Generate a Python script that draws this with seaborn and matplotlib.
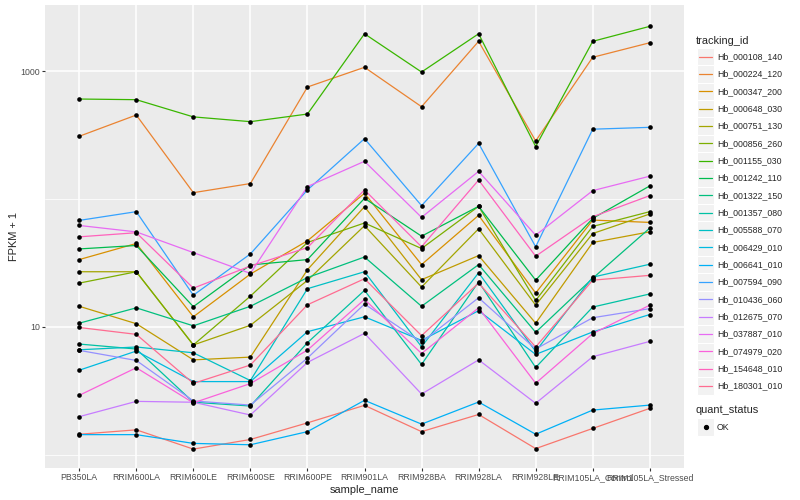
import pandas as pd
import seaborn as sns
import matplotlib.pyplot as plt
from matplotlib.lines import Line2D
from matplotlib.patches import Rectangle
from matplotlib.ticker import FixedLocator, NullFormatter


samples = ["PB350LA", "RRIM600LA", "RRIM600LE", "RRIM600SE", "RRIM600PE", "RRIM901LA",
           "RRIM928BA", "RRIM928LA", "RRIM928LE", "RRIM105LA_Control", "RRIM105LA_Stressed"]

# FPKM + 1 per sample
hb_000108_140 = [1.45, 1.57, 1.11, 1.32, 1.78, 2.44, 1.52, 2.07, 1.12, 1.61, 2.31]
hb_000224_120 = [309, 453, 112, 132, 750, 1069, 526, 1706, 284, 1280, 1663]
hb_000347_200 = [33.6, 44.9, 12.0, 25.9, 47.1, 110.8, 30.7, 74.5, 18.4, 68.4, 65.6]
hb_000648_030 = [14.5, 10.6, 5.53, 5.81, 28.0, 87.1, 23.4, 36.1, 10.7, 45.7, 55.4]
hb_000751_130 = [27.0, 27.0, 7.23, 10.3, 23.1, 61.8, 20.5, 58.5, 14.8, 53.7, 76.3]
hb_000856_260 = [22.0, 27.0, 7.23, 17.4, 45.7, 64.9, 41.0, 87.6, 16.1, 61.0, 79.6]
hb_001155_030 = [604, 597, 438, 402, 461, 1954, 982, 1954, 257, 1706, 2234]
hb_001242_110 = [40.7, 43.3, 14.4, 30.5, 33.6, 101.2, 51.2, 87.6, 23.2, 70.5, 126.5]
hb_001322_150 = [10.7, 14.1, 10.2, 14.5, 24.3, 35.2, 14.5, 30.7, 9.08, 24.0, 59.2]
hb_001357_080 = [7.35, 6.72, 2.58, 2.41, 7.53, 19.3, 5.09, 22.5, 4.82, 14.3, 18.1]
hb_005588_070 = [6.63, 6.97, 6.28, 3.81, 19.9, 27.0, 7.0, 26.5, 6.44, 24.5, 30.9]
hb_006429_010 = [4.59, 6.48, 3.74, 3.74, 9.18, 12.0, 7.85, 13.4, 6.10, 9.14, 12.5]
hb_006641_010 = [1.44, 1.44, 1.23, 1.20, 1.52, 2.67, 1.74, 2.59, 1.45, 2.24, 2.45]
hb_007594_090 = [68.0, 79.6, 17.7, 37.2, 117.7, 296, 88.7, 272, 42.3, 351, 363]
hb_010436_060 = [6.56, 5.47, 2.64, 2.45, 5.71, 15.1, 7.6, 16.9, 6.72, 11.8, 13.9]
hb_012675_070 = [1.99, 2.62, 2.58, 2.05, 5.28, 8.91, 2.99, 5.53, 2.53, 5.85, 7.71]
hb_037887_010 = [62.1, 55.3, 38.1, 26.2, 125, 197, 71.8, 164.4, 52.1, 116.2, 150.7]
hb_074979_020 = [2.92, 4.80, 2.55, 3.61, 6.59, 16.4, 6.2, 14.1, 3.63, 8.87, 14.8]
hb_154648_010 = [50.6, 54.5, 20.1, 29.9, 41.7, 117.7, 42.3, 140.6, 35.7, 72.6, 106.2]
hb_180301_010 = [9.9, 8.75, 3.62, 5.04, 14.9, 23.8, 8.55, 22.0, 6.97, 23.2, 25.3]

tracking_ids = ["Hb_000108_140", "Hb_000224_120", "Hb_000347_200", "Hb_000648_030", "Hb_000751_130",
                "Hb_000856_260", "Hb_001155_030", "Hb_001242_110", "Hb_001322_150", "Hb_001357_080",
                "Hb_005588_070", "Hb_006429_010", "Hb_006641_010", "Hb_007594_090", "Hb_010436_060",
                "Hb_012675_070", "Hb_037887_010", "Hb_074979_020", "Hb_154648_010", "Hb_180301_010"]
series = [hb_000108_140, hb_000224_120, hb_000347_200, hb_000648_030, hb_000751_130,
          hb_000856_260, hb_001155_030, hb_001242_110, hb_001322_150, hb_001357_080,
          hb_005588_070, hb_006429_010, hb_006641_010, hb_007594_090, hb_010436_060,
          hb_012675_070, hb_037887_010, hb_074979_020, hb_154648_010, hb_180301_010]

# ggplot2 default hue palette for 20 levels
colors = ["#F8766D", "#EA8331", "#D89000", "#C09B00", "#A3A500", "#7CAE00", "#39B600",
          "#00BB4E", "#00BF7D", "#00C1A3", "#00BFC4", "#00BAE0", "#00B0F6", "#35A2FF",
          "#9590FF", "#C77CFF", "#E76BF3", "#FA62DB", "#FF62BC", "#FF6C91"]

rows = []
for tid, vals in zip(tracking_ids, series):
    for s, v in zip(samples, vals):
        rows.append((tid, s, v, "OK"))
data = pd.DataFrame(rows, columns=["tracking_id", "sample_name", "fpkm", "quant_status"])
data["sample_name"] = pd.Categorical(data["sample_name"], categories=samples, ordered=True)
data["pos"] = data["sample_name"].cat.codes

sns.set_theme(style="darkgrid")
plt.rcParams["font.family"] = ["Liberation Sans", "DejaVu Sans"]

W, H = 800, 500
fig = plt.figure(figsize=(8, 5), dpi=100)
ax = fig.add_axes([45 / W, 1 - 468 / H, 639 / W, 463 / H])
ax.set_facecolor("#EBEBEB")

sns.lineplot(data=data, x="pos", y="fpkm", hue="tracking_id", hue_order=tracking_ids,
             palette=colors, units="tracking_id", estimator=None, sort=False,
             lw=0.9, legend=False, ax=ax)
sns.scatterplot(data=data, x="pos", y="fpkm", color="black", s=11, linewidth=0,
                legend=False, ax=ax, zorder=5)

ax.set_yscale("log")
ax.set_ylim(0.79, 3280)
ax.set_xlim(-0.6, 10.6)
ax.yaxis.set_major_locator(FixedLocator([10, 1000]))
ax.yaxis.set_minor_locator(FixedLocator([1, 100]))
ax.yaxis.set_minor_formatter(NullFormatter())
ax.set_yticklabels(["10", "1000"])
ax.set_xticks(range(len(samples)))
ax.set_xticklabels(samples)

ax.grid(which="major", color="white", lw=1.1)
ax.grid(which="minor", axis="y", color="white", lw=0.55)
for sp in ax.spines.values():
    sp.set_visible(False)
ax.tick_params(which="major", length=2, width=0.8, color="#333333", labelcolor="#4D4D4D",
               labelsize=6.3, pad=1.5, left=True, bottom=True)
ax.tick_params(which="minor", length=0)
ax.set_xlabel("sample_name", fontsize=7.9, labelpad=2)
ax.set_ylabel("FPKM + 1", fontsize=7.9, labelpad=1)


def px(x, y):
    return x / W, 1 - y / H


# legend: tracking_id
fig.text(*px(696, 41), "tracking_id", fontsize=7.9, va="center", ha="left")
step = 17.33
for i, (tid, c) in enumerate(zip(tracking_ids, colors)):
    yc = 56.7 + i * step
    fig.patches.append(Rectangle(px(697, yc + step / 2), 17 / W, step / H, transform=fig.transFigure,
                                 facecolor="#F2F2F2", edgecolor="white", lw=0.8))
    fig.lines.append(Line2D([699 / W, 712 / W], [1 - yc / H] * 2, transform=fig.transFigure,
                            color=c, lw=0.9))
    fig.text(*px(717, yc), tid, fontsize=6.3, va="center", ha="left")

# legend: quant_status
fig.text(*px(696, 410), "quant_status", fontsize=7.9, va="center", ha="left")
fig.patches.append(Rectangle(px(697, 427 + step / 2), 17 / W, step / H, transform=fig.transFigure,
                             facecolor="#F2F2F2", edgecolor="white", lw=0.8))
fig.lines.append(Line2D([705.5 / W], [1 - 427 / H], transform=fig.transFigure, marker="o",
                        markersize=2.8, color="black", lw=0))
fig.text(*px(717, 427), "OK", fontsize=6.3, va="center", ha="left")

fig.savefig("out.png", dpi=100)
